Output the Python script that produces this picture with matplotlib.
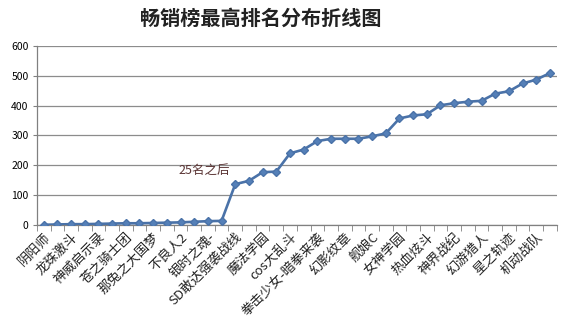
import numpy as np
import matplotlib.pyplot as plt

plt.rcParams['font.family'] = ['Noto Sans CJK SC', 'DejaVu Sans']

# best chart ranking of each game, sorted
values = [1, 2, 3, 3, 4, 5, 6, 6, 7, 8, 9, 11, 13, 14,
          137, 148, 177, 179, 240, 253, 281, 289, 289, 289, 297, 307,
          357, 367, 371, 401, 408, 413, 416, 440, 448, 474, 487, 509]
# only every other game is labelled on the axis
labels = ['阴阳师', '龙珠激斗', '神威启示录', '苍之骑士团', '那兔之大国梦', '不良人2',
          '银时之魂-', 'SD敢达强袭战线', '魔法学园', 'cos大乱斗', '拳击少女-暗拳来袭',
          '幻影纹章', '舰娘C', '女神学园', '热血炫斗', '神界战纪', '幻游猎人',
          '星之轨迹', '机动战队']
y_ticks = [0, 100, 200, 300, 400, 500, 600]

x = np.arange(len(values))

fig = plt.figure(figsize=(5.67, 3.30), dpi=100)
ax = fig.add_axes([0.065, 0.318, 0.917, 0.543])

ax.plot(x, values, color='#4a72a8', lw=1.9, marker='D', ms=4.5,
        markerfacecolor='#5580b8', markeredgecolor='#4a72a8', zorder=3)

ax.set_xlim(-0.5, len(values) - 0.5)
ax.set_ylim(0, 600)
ax.set_yticks(y_ticks)
ax.tick_params(axis='y', labelsize=7.5, length=3, color='#808080', pad=3)
ax.yaxis.grid(True, color='#8c8c8c', lw=0.9)
ax.set_axisbelow(True)

ax.set_xticks(x[::2])
ax.set_xticklabels(labels, rotation=45, ha='right', rotation_mode='anchor',
                   fontsize=9.5, color='#222222')
ax.tick_params(axis='x', which='major', length=0, pad=4)
ax.set_xticks(np.arange(len(values) + 1) - 0.5, minor=True)
ax.tick_params(axis='x', which='minor', length=4, color='#808080')

for s in ['top', 'right']:
    ax.spines[s].set_visible(False)
for s in ['left', 'bottom']:
    ax.spines[s].set_color('#808080')
    ax.spines[s].set_linewidth(0.9)

ax.text(13.6, 182, '25名之后', fontsize=9, color='#5a3434', ha='right', va='center')

fig.text(0.46, 0.945, '畅销榜最高排名分布折线图', ha='center', va='center',
         fontsize=14.5, fontweight='bold', color='#222222')

fig.savefig('out.png', dpi=100)
